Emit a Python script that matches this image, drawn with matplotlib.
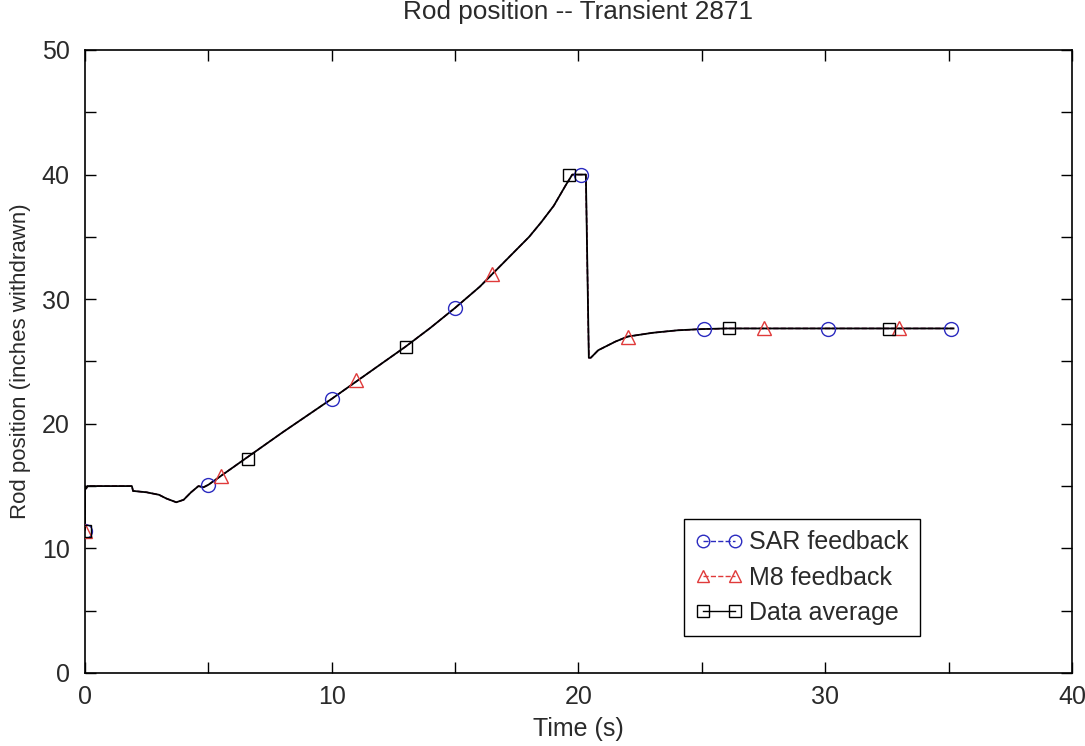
import matplotlib
matplotlib.use("Agg")
import matplotlib.pyplot as plt
from matplotlib.lines import Line2D
from matplotlib.ticker import MultipleLocator

plt.rcParams['font.family'] = ['Liberation Sans', 'DejaVu Sans']

# Measured rod position trace (data average)
time_s = [0.0, 0.0, 0.05, 0.1, 1.9, 1.95, 2.0, 2.5, 3.0, 3.3, 3.7, 4.0, 4.3, 4.6, 4.8,
          5.0, 5.5, 6.5, 8.0, 10.0, 11.0, 12.0, 13.0, 14.0, 15.0, 16.0, 16.5, 17.0,
          18.0, 18.5, 19.0, 19.5, 19.75, 20.3, 20.42, 20.5, 20.8, 21.5, 22.0, 23.0,
          24.0, 25.0, 26.0, 28.0, 30.0, 33.0, 35.2]
position_in = [11.5, 15.0, 14.8, 15.0, 15.0, 14.6, 14.6, 14.5, 14.3, 14.0, 13.7, 13.9,
               14.5, 15.0, 14.9, 15.1, 15.8, 17.2, 19.3, 22.0, 23.4, 24.8, 26.2, 27.7,
               29.3, 31.0, 32.0, 33.0, 35.0, 36.2, 37.5, 39.2, 40.0, 40.0, 25.3, 25.3,
               25.9, 26.6, 27.0, 27.3, 27.5, 27.6, 27.65, 27.65, 27.65, 27.65, 27.65]

# Marker samples of each series
sar_t = [0.0, 5.0, 10.0, 15.0, 20.1, 25.1, 30.1, 35.1]
sar_v = [11.4, 15.1, 22.0, 29.3, 40.0, 27.6, 27.6, 27.6]
m8_t = [0.0, 5.5, 11.0, 16.5, 22.0, 27.5, 33.0]
m8_v = [11.4, 15.8, 23.5, 32.0, 27.0, 27.7, 27.7]
avg_t = [0.0, 6.6, 13.0, 19.6, 26.1, 32.6]
avg_v = [11.4, 17.2, 26.2, 40.0, 27.65, 27.6]

blue = '#2b2bc0'
red = '#e03a3a'
txt = '#2a2a2a'

fig = plt.figure(figsize=(10.85, 7.46), dpi=100)
ax = fig.add_axes([0.0783, 0.0979, 0.9097, 0.8351])

ax.plot(time_s, position_in, '--', color=blue, lw=1.0, zorder=1)
ax.plot(time_s, position_in, '--', color=red, lw=1.0, zorder=1)
ax.plot(time_s, position_in, '-', color='black', lw=1.3, zorder=2)

ax.plot(sar_t, sar_v, 'o', ls='none', mfc='none', mec=blue, ms=10, mew=1.0, zorder=3)
ax.plot(m8_t, m8_v, '^', ls='none', mfc='none', mec=red, ms=10, mew=1.0, zorder=3)
ax.plot(avg_t, avg_v, 's', ls='none', mfc='none', mec='black', ms=9, mew=1.0, zorder=3)

ax.set_xlim(0, 40)
ax.set_ylim(0, 50)
ax.xaxis.set_major_locator(MultipleLocator(10))
ax.xaxis.set_minor_locator(MultipleLocator(5))
ax.yaxis.set_major_locator(MultipleLocator(10))
ax.yaxis.set_minor_locator(MultipleLocator(5))
ax.tick_params(which='both', direction='in', top=True, right=True, length=8,
               width=1.0, labelsize=18, color='black', labelcolor=txt)
ax.tick_params(axis='x', pad=9)
ax.tick_params(axis='y', pad=11)
for s in ax.spines.values():
    s.set_linewidth(1.2)

ax.set_title('Rod position -- Transient 2871', fontsize=18.8, pad=22, color=txt)
ax.set_xlabel('Time (s)', fontsize=18, color=txt)
ax.xaxis.set_label_coords(0.5, -0.07)
ax.set_ylabel('Rod position (inches withdrawn)', fontsize=16, color=txt)
ax.yaxis.set_label_coords(-0.055, 0.5)

handles = [
    Line2D([], [], color=blue, ls='--', marker='o', mfc='none', mec=blue, ms=9, lw=1.0),
    Line2D([], [], color=red, ls='--', marker='^', mfc='none', mec=red, ms=9, lw=1.0),
    Line2D([], [], color='black', ls='-', marker='s', mfc='none', mec='black', ms=8, lw=1.0),
]
leg = ax.legend(handles, ['SAR feedback', 'M8 feedback', 'Data average'],
                loc='lower right', bbox_to_anchor=(0.846, 0.059), fontsize=18,
                numpoints=2, handlelength=1.9, handletextpad=0.25,
                fancybox=False, framealpha=1, edgecolor='black', borderpad=0.45,
                labelspacing=0.45, borderaxespad=0.0)
leg.get_frame().set_linewidth(1.0)
for t in leg.get_texts():
    t.set_color(txt)

fig.savefig('out.png', dpi=100)
